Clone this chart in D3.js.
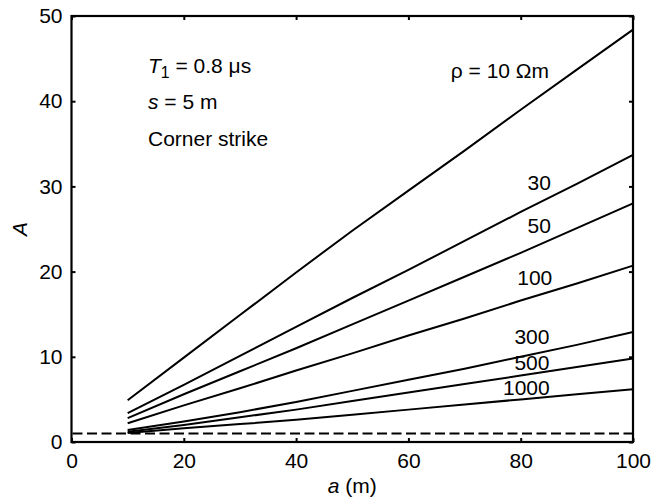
<!DOCTYPE html>
<html>
<head>
<meta charset="utf-8">
<script src="https://cdn.jsdelivr.net/npm/d3@7"></script>
<style>
  body { margin: 0; background: #fff; }
  svg text { font-family: Arial, "Liberation Sans", sans-serif; fill: #000; }
</style>
</head>
<body>
<div class="chart_wrapper"></div>
<script>
// a (m) sample points, shared by every curve
const aValues = [10, 20, 30, 40, 50, 60, 70, 80, 90, 100]

// A values, one array per soil resistivity
const rhoLabels = ['ρ = 10 Ωm', '30', '50', '100', '300', '500', '1000']
const A_rho10 = [4.9, 9.9, 14.9, 19.9, 24.8, 29.5, 34.2, 39.0, 43.7, 48.4]
const A_rho30 = [3.4, 6.7, 10.1, 13.5, 16.9, 20.2, 23.6, 27.0, 30.3, 33.7]
const A_rho50 = [2.8, 5.6, 8.3, 11.0, 13.8, 16.6, 19.4, 22.2, 25.1, 28.0]
const A_rho100 = [2.2, 4.3, 6.3, 8.4, 10.4, 12.5, 14.5, 16.6, 18.6, 20.7]
const A_rho300 = [1.4, 2.4, 3.5, 4.7, 6.0, 7.3, 8.6, 10.0, 11.4, 12.9]
const A_rho500 = [1.2, 2.0, 2.9, 3.8, 4.8, 5.8, 6.8, 7.8, 8.8, 9.8]
const A_rho1000 = [1.05, 1.6, 2.1, 2.6, 3.2, 3.8, 4.4, 5.0, 5.6, 6.2]

// where each curve label sits, in data units [a, A]
const labelAt = [[76.3, 42.7], [83.3, 29.6], [83.3, 24.5], [82.5, 18.4], [82, 11.5], [82, 8.4], [81, 5.5]]

const xTicks = [0, 20, 40, 60, 80, 100]
const yTicks = [0, 10, 20, 30, 40, 50]
const refLevel = 1

const series = [A_rho10, A_rho30, A_rho50, A_rho100, A_rho300, A_rho500, A_rho1000]

const width = 668
const height = 499
const margin = { left: 71.5, right: 35, top: 16, bottom: 57 }

const svg = d3.select('.chart_wrapper')
    .append('svg')
    .attr('width', width)
    .attr('height', height)

const x = d3.scaleLinear().domain([0, 100]).range([margin.left, width - margin.right])
const y = d3.scaleLinear().domain([0, 50]).range([height - margin.bottom, margin.top])

const fs = 21
const tickLen = 4

// axes: labelled bottom/left, tick-only top/right, all ticks pointing inward
svg.append('g')
    .attr('transform', `translate(0,${y(0)})`)
    .call(d3.axisBottom(x).tickValues(xTicks).tickSizeInner(-tickLen).tickSizeOuter(0).tickPadding(11))
svg.append('g')
    .attr('transform', `translate(0,${y(50)})`)
    .call(d3.axisTop(x).tickValues(xTicks).tickSizeInner(-tickLen).tickSizeOuter(0).tickFormat(''))
svg.append('g')
    .attr('transform', `translate(${x(0)},0)`)
    .call(d3.axisLeft(y).tickValues(yTicks).tickSizeInner(-tickLen).tickSizeOuter(0).tickPadding(9))
svg.append('g')
    .attr('transform', `translate(${x(100)},0)`)
    .call(d3.axisRight(y).tickValues(yTicks).tickSizeInner(-tickLen).tickSizeOuter(0).tickFormat(''))

svg.selectAll('.domain').remove()
svg.selectAll('.tick line').attr('stroke', '#000').attr('stroke-width', 2)
svg.selectAll('.tick text')
    .attr('font-size', fs)
    .attr('font-family', 'Arial, "Liberation Sans", sans-serif')
    .attr('fill', '#000')

// frame
svg.append('rect')
    .attr('x', x(0))
    .attr('y', y(50))
    .attr('width', x(100) - x(0))
    .attr('height', y(0) - y(50))
    .attr('fill', 'none')
    .attr('stroke', '#000')
    .attr('stroke-width', 2.2)

// dashed reference line A = 1
svg.append('line')
    .attr('x1', x(0) + 1)
    .attr('x2', x(100) - 1)
    .attr('y1', y(refLevel))
    .attr('y2', y(refLevel))
    .attr('stroke', '#000')
    .attr('stroke-width', 2)
    .attr('stroke-dasharray', '10,4.5')

const line = d3.line()
    .x((d, i) => x(aValues[i]))
    .y(d => y(d))

svg.append('g')
    .selectAll('path')
    .data(series)
    .join('path')
    .attr('d', d => line(d))
    .attr('fill', 'none')
    .attr('stroke', '#000')
    .attr('stroke-width', 2)

svg.append('g')
    .selectAll('text')
    .data(rhoLabels)
    .join('text')
    .attr('x', (d, i) => x(labelAt[i][0]))
    .attr('y', (d, i) => y(labelAt[i][1]))
    .attr('text-anchor', 'middle')
    .attr('font-size', fs)
    .text(d => d)

// annotation block top-left
const note = svg.append('g').attr('font-size', fs)
const t1 = note.append('text').attr('x', 148).attr('y', 73)
t1.append('tspan').attr('font-style', 'italic').text('T')
t1.append('tspan').attr('font-size', fs * 0.75).attr('dy', 5).text('1')
t1.append('tspan').attr('dy', -5).text(' = 0.8 μs')
const t2 = note.append('text').attr('x', 148).attr('y', 109)
t2.append('tspan').attr('font-style', 'italic').text('s')
t2.append('tspan').text(' = 5 m')
note.append('text').attr('x', 148).attr('y', 146).text('Corner strike')

// axis titles
const xl = svg.append('text')
    .attr('x', (x(0) + x(100)) / 2)
    .attr('y', 493)
    .attr('text-anchor', 'middle')
    .attr('font-size', fs)
xl.append('tspan').attr('font-style', 'italic').text('a')
xl.append('tspan').text(' (m)')

svg.append('text')
    .attr('transform', `translate(27,${(y(0) + y(50)) / 2}) rotate(-90)`)
    .attr('text-anchor', 'middle')
    .attr('font-size', fs)
    .attr('font-style', 'italic')
    .text('A')
</script>
</body>
</html>
